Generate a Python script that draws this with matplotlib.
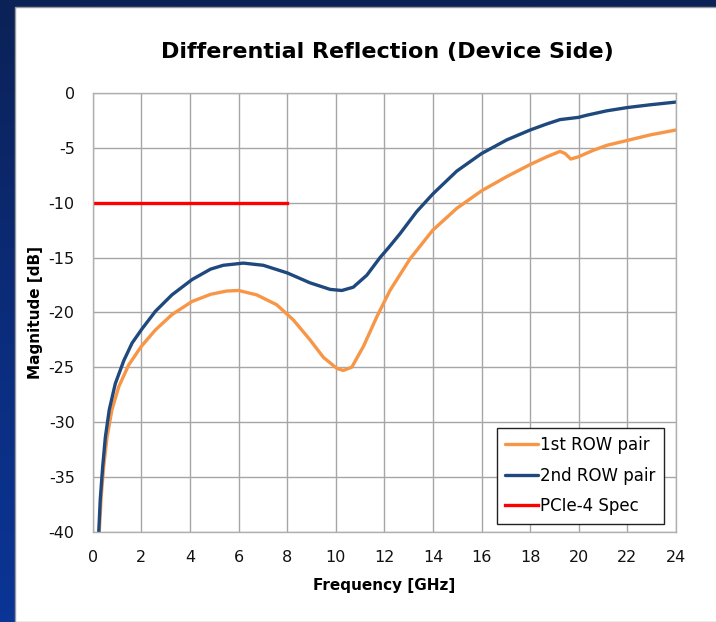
import numpy as np
import matplotlib
matplotlib.use("Agg")
import matplotlib.pyplot as plt
from matplotlib.colors import LinearSegmentedColormap
from matplotlib.patches import Rectangle

plt.rcParams["axes.unicode_minus"] = False

# ---- data ----
freq_row1 = [0.27, 0.35, 0.45, 0.59, 0.79, 1.07, 1.48, 2.0, 2.58, 3.26, 4.09, 4.85, 5.51, 6.0,
             6.75, 7.57, 8.26, 8.94, 9.49, 10.04, 10.31, 10.66, 11.14, 11.69, 12.23, 13.06,
             13.99, 14.98, 16.0, 17.04, 18.0, 18.68, 19.23, 19.44, 19.67, 19.98, 20.6, 21.15,
             22.0, 22.93, 24.0]
db_row1 = [-40.0, -36.8, -34.1, -31.4, -28.9, -26.8, -24.8, -23.1, -21.6, -20.2, -19.0, -18.35,
           -18.05, -18.0, -18.4, -19.3, -20.7, -22.5, -24.1, -25.1, -25.3, -25.0, -23.1, -20.4,
           -18.0, -15.1, -12.5, -10.5, -8.9, -7.6, -6.5, -5.8, -5.3, -5.5, -6.0, -5.8, -5.2,
           -4.75, -4.3, -3.8, -3.35]

freq_row2 = [0.25, 0.31, 0.41, 0.52, 0.68, 0.93, 1.28, 1.62, 2.03, 2.58, 3.26, 4.09, 4.85, 5.37,
             6.2, 7.02, 8.01, 8.94, 9.77, 10.25, 10.72, 11.28, 11.82, 12.17, 12.65, 13.33,
             13.99, 14.98, 16.0, 17.04, 18.0, 18.68, 19.23, 19.98, 20.33, 21.15, 22.0, 22.93,
             24.0]
db_row2 = [-40.0, -37.1, -34.1, -31.4, -28.9, -26.5, -24.4, -22.8, -21.5, -19.9, -18.4, -17.0,
           -16.05, -15.7, -15.5, -15.7, -16.4, -17.3, -17.9, -18.0, -17.7, -16.6, -15.0, -14.1,
           -12.8, -10.8, -9.2, -7.1, -5.5, -4.25, -3.35, -2.8, -2.4, -2.2, -2.0, -1.6, -1.3,
           -1.05, -0.8]

freq_spec = [0.0, 8.0]
db_spec = [-10.0, -10.0]

x_ticks = list(range(0, 25, 2))
y_ticks = list(range(-40, 1, 5))

title = "Differential Reflection (Device Side)"
labels = ["1st ROW pair", "2nd ROW pair", "PCIe-4 Spec"]
colors = ["#F79646", "#1F497D", "#FF0000"]

# ---- figure ----
W, H = 716, 622
fig = plt.figure(figsize=(W / 100, H / 100), dpi=100)

# blue gradient background with white panel
bg = fig.add_axes([0, 0, 1, 1], zorder=-10)
cmap = LinearSegmentedColormap.from_list("bg", ["#0B2257", "#0B2C7A", "#0A3596"])
grad = np.linspace(0, 1, 256).reshape(-1, 1)
bg.imshow(grad, aspect="auto", cmap=cmap, extent=[0, 1, 0, 1], origin="upper")
bg.add_patch(Rectangle((15 / W, 0), 1, 1 - 7 / H, transform=bg.transAxes,
                       facecolor="white", edgecolor="#9a9a9a", linewidth=1.0))
bg.set_xlim(0, 1)
bg.set_ylim(0, 1)
bg.axis("off")

ax = fig.add_axes([92.7 / W, 1 - 531.5 / H, (676 - 92.7) / W, (531.5 - 93.3) / H])
ax.set_facecolor("white")

ax.plot(freq_row1, db_row1, color=colors[0], lw=2.4, label=labels[0],
        solid_capstyle="round", solid_joinstyle="round")
ax.plot(freq_row2, db_row2, color=colors[1], lw=2.4, label=labels[1],
        solid_capstyle="round", solid_joinstyle="round")
ax.plot(freq_spec, db_spec, color=colors[2], lw=2.4, label=labels[2])

ax.set_xlim(0, 24)
ax.set_ylim(-40, 0)
ax.set_xticks(x_ticks)
ax.set_yticks(y_ticks)
ax.tick_params(length=0, labelsize=11.5, pad=13, colors="#111111")
ax.grid(True, color="#A6A6A6", lw=1.0)
ax.set_axisbelow(True)
for s in ax.spines.values():
    s.set_color("#B0B0B0")
    s.set_linewidth(1.0)

ax.set_xlabel("Frequency [GHz]", fontsize=11, fontweight="bold", labelpad=10)
ax.set_ylabel("Magnitude [dB]", fontsize=11, fontweight="bold", labelpad=4)
fig.text(387 / W, 1 - 52 / H, title, fontsize=16, fontweight="bold",
         ha="center", va="center")

leg = ax.legend(loc="lower right", bbox_to_anchor=(0.979, 0.018), fontsize=12,
                frameon=True, fancybox=False, edgecolor="#222222", framealpha=1,
                handlelength=2.0, handletextpad=0.1, borderpad=0.5, labelspacing=0.75,
                borderaxespad=0)
leg.get_frame().set_linewidth(1.0)

fig.savefig("out.png", dpi=100)
